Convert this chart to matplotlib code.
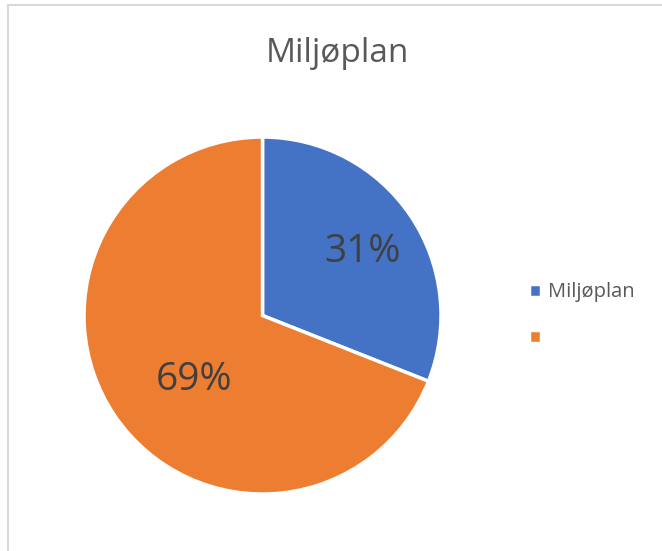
import numpy as np
import matplotlib
matplotlib.use('Agg')
import matplotlib.pyplot as plt
from matplotlib.patches import Rectangle

# slices of the pie (Excel-style, clockwise from 12 o'clock)
labels = ['Miljøplan', '']
values = [31, 69]
colors = ['#4472C4', '#ED7D31']
label_dist = [0.68, 0.512]   # best-fit distance of each % label
label_turn = [0, 7]          # small angular nudge (deg) of each % label

plt.rcParams['font.family'] = ['Open Sans', 'DejaVu Sans']

fig = plt.figure(figsize=(6.62, 5.51), dpi=100)

# light grey chart border (runs off right/bottom edge)
fig.patches.append(Rectangle((8 / 662, -0.1), 1.2, 1 - 5 / 551 + 0.1,
                             transform=fig.transFigure, fill=False,
                             edgecolor='#D9D9D9', linewidth=1.5))

ax = fig.add_axes([0.1269, 0.1034, 0.5393, 0.6479])
wedges, texts, autotexts = ax.pie(values, colors=colors, startangle=90,
                                  counterclock=False, autopct='%d%%',
                                  pctdistance=0.6,
                                  wedgeprops=dict(edgecolor='white', linewidth=2.5),
                                  textprops=dict(fontsize=28, color='#404040'))
for w, t, d, turn in zip(wedges, autotexts, label_dist, label_turn):
    ang = np.deg2rad((w.theta1 + w.theta2) / 2 + turn)
    t.set_position((d * np.cos(ang), d * np.sin(ang)))
    t.set_va('center_baseline')
ax.set_xlim(-1, 1)
ax.set_ylim(-1, 1)
ax.set_aspect('equal')

fig.text(337 / 662, 1 - 62 / 551, 'Miljøplan', ha='center', va='baseline',
         fontsize=24, color='#595959')

fig.legend(wedges, labels, loc='center left',
           bbox_to_anchor=(529 / 662, 1 - 315.5 / 551), frameon=False,
           borderpad=0, borderaxespad=0,
           fontsize=14.5, labelcolor='#595959', handlelength=0.62,
           handleheight=0.62, handletextpad=0.3, labelspacing=1.3)

plt.savefig('out.png', dpi=100)
